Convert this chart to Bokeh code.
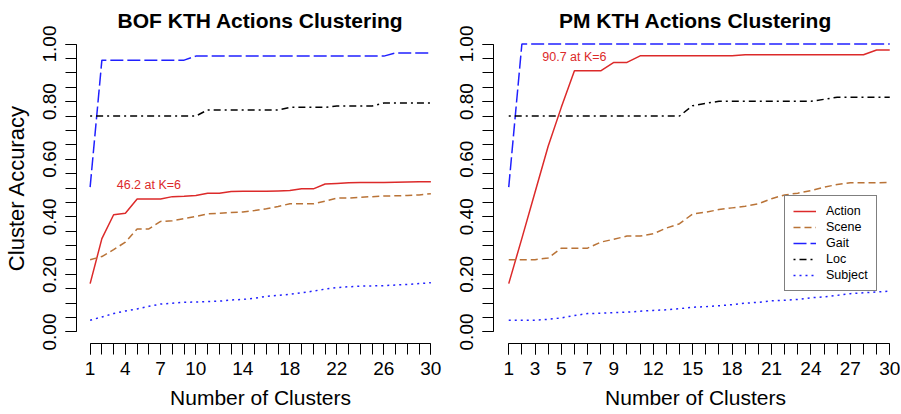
from bokeh.plotting import figure
from bokeh.layouts import row
from bokeh.models import (FixedTicker, Legend, LegendItem, Label, PrintfTickFormatter,
                          ColumnDataSource, Range1d)
from bokeh.embed import file_html
from bokeh.resources import INLINE

# ---------------- data ----------------
clusters = list(range(1, 31))

bof_action = [0.168, 0.324, 0.407, 0.412, 0.462, 0.462, 0.462, 0.470, 0.471, 0.474,
              0.482, 0.482, 0.488, 0.489, 0.489, 0.489, 0.490, 0.491, 0.497, 0.497,
              0.514, 0.516, 0.518, 0.519, 0.519, 0.519, 0.520, 0.521, 0.522, 0.522]
bof_scene = [0.251, 0.262, 0.286, 0.312, 0.358, 0.358, 0.384, 0.386, 0.394, 0.401,
             0.410, 0.412, 0.415, 0.417, 0.422, 0.428, 0.436, 0.445, 0.445, 0.445,
             0.454, 0.465, 0.465, 0.468, 0.470, 0.472, 0.473, 0.474, 0.476, 0.480]
bof_gait = [0.503, 0.944, 0.944, 0.944, 0.944, 0.944, 0.944, 0.944, 0.944, 0.958,
            0.958, 0.958, 0.958, 0.958, 0.958, 0.958, 0.958, 0.958, 0.958, 0.958,
            0.958, 0.958, 0.958, 0.958, 0.958, 0.958, 0.969, 0.969, 0.969, 0.969]
bof_loc = [0.750, 0.750, 0.750, 0.750, 0.750, 0.750, 0.750, 0.750, 0.750, 0.750,
           0.771, 0.771, 0.771, 0.771, 0.771, 0.771, 0.771, 0.780, 0.780, 0.780,
           0.780, 0.785, 0.785, 0.785, 0.785, 0.795, 0.795, 0.795, 0.795, 0.795]
bof_subject = [0.041, 0.052, 0.064, 0.073, 0.080, 0.089, 0.097, 0.100, 0.103, 0.104,
               0.106, 0.107, 0.111, 0.113, 0.117, 0.124, 0.127, 0.131, 0.136, 0.142,
               0.149, 0.154, 0.157, 0.159, 0.160, 0.161, 0.163, 0.165, 0.168, 0.171]

pm_action = [0.168, 0.325, 0.485, 0.645, 0.780, 0.907, 0.907, 0.907, 0.936, 0.936,
             0.959, 0.959, 0.959, 0.959, 0.959, 0.959, 0.959, 0.959, 0.963, 0.963,
             0.963, 0.963, 0.963, 0.963, 0.963, 0.963, 0.963, 0.963, 0.979, 0.979]
pm_scene = [0.251, 0.251, 0.251, 0.257, 0.291, 0.291, 0.291, 0.312, 0.322, 0.333,
            0.333, 0.341, 0.361, 0.376, 0.410, 0.416, 0.425, 0.431, 0.437, 0.445,
            0.463, 0.476, 0.482, 0.491, 0.503, 0.512, 0.518, 0.518, 0.518, 0.520]
pm_gait = [0.503, 1.000, 1.000, 1.000, 1.000, 1.000, 1.000, 1.000, 1.000, 1.000,
           1.000, 1.000, 1.000, 1.000, 1.000, 1.000, 1.000, 1.000, 1.000, 1.000,
           1.000, 1.000, 1.000, 1.000, 1.000, 1.000, 1.000, 1.000, 1.000, 1.000]
pm_loc = [0.750, 0.750, 0.750, 0.750, 0.750, 0.750, 0.750, 0.750, 0.750, 0.750,
          0.750, 0.750, 0.750, 0.750, 0.786, 0.794, 0.801, 0.801, 0.801, 0.801,
          0.801, 0.801, 0.801, 0.801, 0.808, 0.815, 0.815, 0.815, 0.815, 0.815]
pm_subject = [0.041, 0.041, 0.041, 0.044, 0.049, 0.057, 0.064, 0.065, 0.067, 0.069,
              0.072, 0.075, 0.077, 0.081, 0.086, 0.088, 0.091, 0.095, 0.100, 0.103,
              0.108, 0.110, 0.113, 0.119, 0.122, 0.127, 0.133, 0.136, 0.139, 0.142]

series_names = ["Action", "Scene", "Gait", "Loc", "Subject"]
bof_xticks = [1, 4, 7, 10, 14, 18, 22, 26, 30]
pm_xticks = [1, 3, 5, 7, 9, 12, 15, 18, 21, 24, 27, 30]
y_ticks = [0.0, 0.2, 0.4, 0.6, 0.8, 1.0]
y_minor = [i * 0.05 for i in range(21)]
best_k = 6

# ---------------- styles ----------------
FONT = "Liberation Sans"
styles = {
    "Action": dict(line_color="#dc2a2a", line_dash="solid"),
    "Scene": dict(line_color="#b97337", line_dash="7 4"),
    "Gait": dict(line_color="#2020ff", line_dash="13 4"),
    "Loc": dict(line_color="#000000", line_dash="2 4 7 4"),
    "Subject": dict(line_color="#2020ff", line_dash="2 4"),
}


def make_panel(title, data, xticks, width, mbl, mbr, xr, ylabel, ann_text_fmt):
    p = figure(width=width, height=414, title=title, output_backend="svg",
               toolbar_location=None, x_range=Range1d(*xr), y_range=Range1d(-0.04, 1.04),
               min_border_left=mbl, min_border_right=mbr, min_border_top=32,
               min_border_bottom=71)
    p.outline_line_color = None
    p.xgrid.visible = False
    p.ygrid.visible = False
    p.title.text_font = FONT
    p.title.text_font_size = "21px"
    p.title.text_font_style = "bold"
    p.title.text_color = "black"
    p.title.align = "center"
    p.title.standoff = 1

    src = ColumnDataSource(dict(k=clusters, **{n: v for n, v in zip(series_names, data)}))
    rends = {}
    for n in series_names:
        rends[n] = p.line(x="k", y=n, source=src, line_width=1.5, **styles[n])

    for ax in (p.xaxis[0], p.yaxis[0]):
        ax.axis_line_color = "black"
        ax.axis_line_width = 1
        ax.major_tick_line_color = "black"
        ax.minor_tick_line_color = "black"
        ax.major_tick_in = 0
        ax.minor_tick_in = 0
        ax.major_tick_out = 11
        ax.minor_tick_out = 11
        ax.major_label_text_font = FONT
        ax.major_label_text_font_size = "19px"
        ax.major_label_text_color = "black"
        ax.axis_label_text_font = FONT
        ax.axis_label_text_font_size = "21px"
        ax.axis_label_text_font_style = "normal"
        ax.axis_label_text_color = "black"

    p.xaxis.ticker = FixedTicker(ticks=xticks, minor_ticks=clusters)
    p.xaxis.bounds = (clusters[0], clusters[-1])
    p.xaxis.axis_label = "Number of Clusters"
    p.xaxis.major_label_standoff = 7
    p.xaxis.axis_label_standoff = 8

    p.yaxis.ticker = FixedTicker(ticks=y_ticks, minor_ticks=y_minor)
    p.yaxis.formatter = PrintfTickFormatter(format="%.2f")
    p.yaxis.bounds = (0, 1)
    p.yaxis.major_label_orientation = "vertical"
    p.yaxis.major_label_standoff = 9
    if ylabel:
        p.yaxis.axis_label = ylabel
        p.yaxis.axis_label_text_font_size = "22px"
        p.yaxis.axis_label_standoff = 12

    act = data[0][best_k - 1]
    p.add_layout(Label(x=best_k, y=act + 0.048, text=ann_text_fmt.format(act * 100, best_k),
                       text_align="center", text_baseline="middle",
                       text_color=styles["Action"]["line_color"], text_font=FONT,
                       text_font_size="12.5px"))
    return p, rends


p1, _ = make_panel("BOF KTH Actions Clustering",
                   [bof_action, bof_scene, bof_gait, bof_loc, bof_subject],
                   bof_xticks, 455, 76, 11, (-0.16, 31.16), "Cluster Accuracy",
                   "{:.1f} at K={}")
p2, r2 = make_panel("PM KTH Actions Clustering",
                    [pm_action, pm_scene, pm_gait, pm_loc, pm_subject],
                    pm_xticks, 445, 38, 3, (-0.16, 30.59), None,
                    "{:.1f} at K={}")

legend = Legend(items=[LegendItem(label=n, renderers=[r2[n]]) for n in series_names],
                location=(291, 52))
legend.border_line_color = "black"
legend.border_line_width = 1
legend.background_fill_color = "white"
legend.background_fill_alpha = 1
legend.label_text_font = FONT
legend.label_text_font_size = "12.5px"
legend.label_text_color = "black"
legend.padding = 8
legend.spacing = 2
legend.glyph_width = 23
legend.glyph_height = 14
legend.label_height = 14
legend.label_standoff = 10
legend.margin = 0
p2.add_layout(legend)

layout = row(p1, p2)
open("out.html", "w").write(file_html(layout, INLINE))
